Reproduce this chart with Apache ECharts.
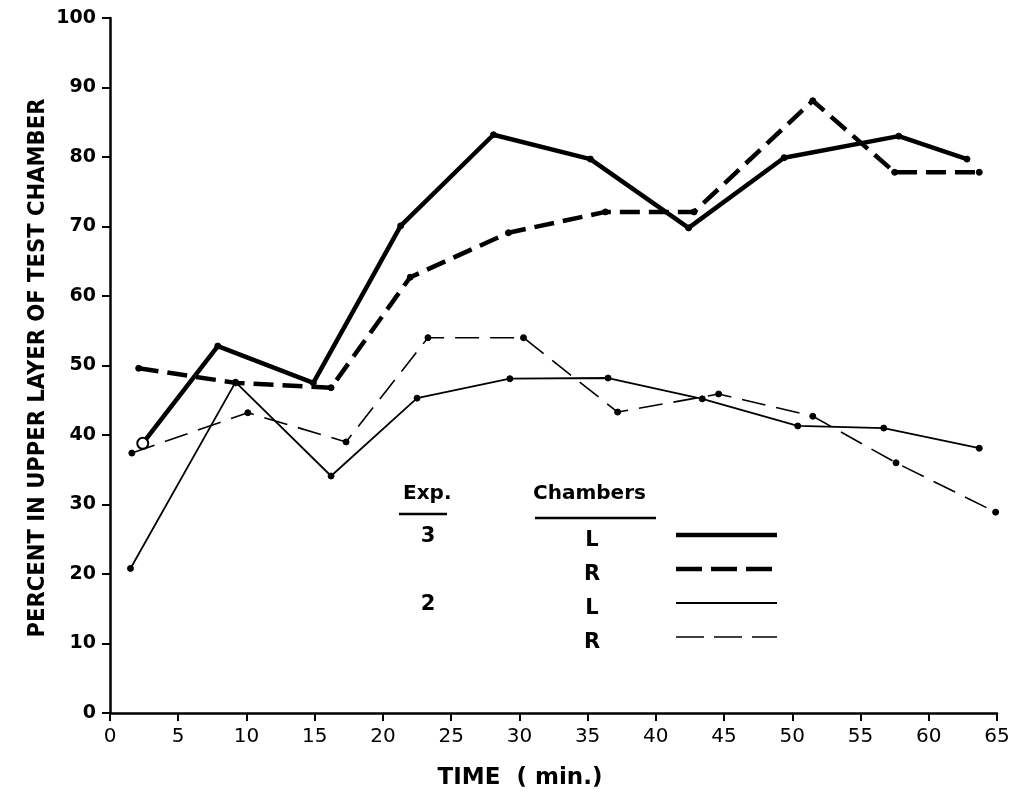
<!DOCTYPE html>
<html>
<head>
<meta charset="utf-8">
<script src="https://cdn.jsdelivr.net/npm/echarts@6/dist/echarts.min.js"></script>
<style>
html,body{margin:0;padding:0;background:#fff;}
#chart{width:1025px;height:800px;}
</style>
</head>
<body>
<div id="chart"></div>
<script>
// ---- data ----
var xTicks = [0,5,10,15,20,25,30,35,40,45,50,55,60,65];
var yTicks = [0,10,20,30,40,50,60,70,80,90,100];

var exp3L_time = [2.4, 7.9, 14.9, 21.3, 28.1, 35.2, 42.4, 49.4, 57.8, 62.8];
var exp3L_pct  = [38.8, 52.8, 47.5, 70.1, 83.2, 79.7, 69.8, 79.9, 83.0, 79.7];

var exp3R_time = [2.1, 9.2, 16.2, 22.0, 29.2, 36.3, 42.8, 51.5, 57.5, 63.7];
var exp3R_pct  = [49.6, 47.5, 46.8, 62.7, 69.1, 72.1, 72.1, 88.1, 77.8, 77.8];

var exp2L_time = [1.5, 9.2, 16.2, 22.5, 29.3, 36.5, 43.4, 50.4, 56.7, 63.7];
var exp2L_pct  = [20.8, 47.6, 34.1, 45.3, 48.1, 48.2, 45.2, 41.3, 41.0, 38.1];

var exp2R_time = [1.6, 10.1, 17.3, 23.3, 30.3, 37.2, 44.6, 51.5, 57.6, 64.9];
var exp2R_pct  = [37.4, 43.2, 39.0, 54.0, 54.0, 43.3, 45.9, 42.7, 36.0, 28.9];

var legendExp = ['3', '', '2', ''];
var legendChambers = ['L', 'R', 'L', 'R'];

// ---- build ----
function pairs(t, v) { return t.map(function (x, i) { return [x, v[i]]; }); }

var FONT = 'DejaVu Sans';
var chart = echarts.init(document.getElementById('chart'), null, {renderer: 'canvas'});

var e3L = pairs(exp3L_time, exp3L_pct).map(function (p, i) {
  return i === 0 ? {value: p, symbol: 'emptyCircle', symbolSize: 11, itemStyle: {borderWidth: 2.5}} : p;
});

function lineSeries(name, data, width, type, dot) {
  return {
    name: name, type: 'line', data: data, smooth: false,
    symbol: 'circle', symbolSize: dot,
    lineStyle: {color: '#000', width: width, type: type},
    itemStyle: {color: '#000', borderColor: '#000'},
    z: 3, animation: false
  };
}

var legX1 = 676, legX2 = 777;
var legY = [535, 569, 603, 637];
var legStyles = [
  {w: 4.5, dash: null},
  {w: 4.5, dash: [26, 9]},
  {w: 2, dash: null},
  {w: 1.6, dash: [28, 10]}
];
var graphics = [];
var textStyle = {fill: '#000', font: 'bold 21px ' + FONT, textAlign: 'center', textVerticalAlign: 'middle'};
graphics.push({type: 'text', left: 403, top: 484, style: {text: 'Exp.', fill: '#000', font: 'bold 20px ' + FONT}});
graphics.push({type: 'line', shape: {x1: 399, y1: 514, x2: 447, y2: 514}, style: {stroke: '#000', lineWidth: 2.5}});
graphics.push({type: 'text', left: 533, top: 484, style: {text: 'Chambers', fill: '#000', font: 'bold 20px ' + FONT}});
graphics.push({type: 'line', shape: {x1: 535, y1: 518, x2: 656, y2: 518}, style: {stroke: '#000', lineWidth: 2.5}});
for (var i = 0; i < 4; i++) {
  if (legendExp[i]) graphics.push({type: 'text', x: 428, y: legY[i] + 2, style: Object.assign({text: legendExp[i]}, textStyle)});
  graphics.push({type: 'text', x: 592, y: legY[i] + 6, style: Object.assign({text: legendChambers[i]}, textStyle)});
  graphics.push({type: 'line', shape: {x1: legX1, y1: legY[i], x2: legX2, y2: legY[i]},
    style: {stroke: '#000', lineWidth: legStyles[i].w, lineDash: legStyles[i].dash}});
}
graphics.push({type: 'text', x: 38, y: 368, rotation: Math.PI / 2,
  style: {text: 'PERCENT IN UPPER LAYER OF TEST CHAMBER', fill: '#000',
    font: 'bold 23.5px "DejaVu Sans Condensed", "DejaVu Sans"',
    textAlign: 'center', textVerticalAlign: 'middle'}});
graphics.push({type: 'text', x: 520, y: 778,
  style: {text: 'TIME  ( min.)', fill: '#000', font: 'bold 23px ' + FONT,
    textAlign: 'center', textVerticalAlign: 'middle'}});

var option = {
  backgroundColor: '#fff',
  animation: false,
  grid: {left: 110, right: 28, top: 18, bottom: 87, containLabel: false},
  xAxis: {
    type: 'value', min: 0, max: 65, interval: 5,
    axisLine: {lineStyle: {color: '#000', width: 2.5}},
    axisTick: {show: true, length: 8, lineStyle: {color: '#000', width: 2}},
    axisLabel: {color: '#000', fontFamily: FONT, fontSize: 20, margin: 14,
      formatter: function (v) { return xTicks.indexOf(v) >= 0 ? String(v) : ''; }},
    splitLine: {show: false}
  },
  yAxis: {
    type: 'value', min: 0, max: 100, interval: 10,
    axisLine: {lineStyle: {color: '#000', width: 2.5}},
    axisTick: {show: true, length: 8, lineStyle: {color: '#000', width: 2}},
    axisLabel: {color: '#000', fontFamily: FONT, fontSize: 19, fontWeight: 'bold', margin: 14,
      formatter: function (v) { return yTicks.indexOf(v) >= 0 ? String(v) : ''; }},
    splitLine: {show: false}
  },
  series: [
    lineSeries('Exp 3 L', e3L, 4.5, 'solid', 6),
    lineSeries('Exp 3 R', pairs(exp3R_time, exp3R_pct), 4.5, [20, 9], 6),
    lineSeries('Exp 2 L', pairs(exp2L_time, exp2L_pct), 1.8, 'solid', 6),
    lineSeries('Exp 2 R', pairs(exp2R_time, exp2R_pct), 1.6, [24, 11], 6)
  ],
  graphic: graphics
};
chart.setOption(option);
</script>
</body>
</html>
